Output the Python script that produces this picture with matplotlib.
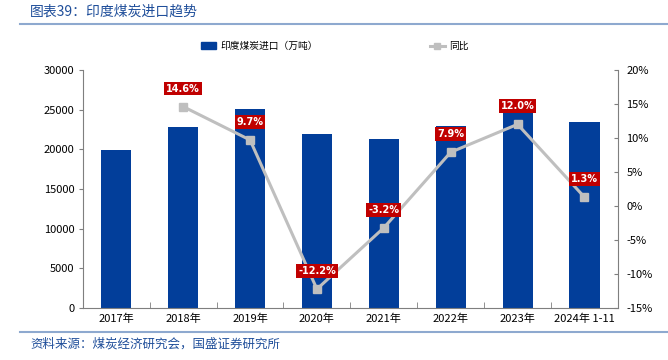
import matplotlib
matplotlib.use("Agg")
import matplotlib.pyplot as plt
from matplotlib.lines import Line2D
from matplotlib.patches import Patch
from matplotlib.ticker import FuncFormatter, FixedLocator

plt.rcParams['font.family'] = ['Noto Sans CJK SC', 'DejaVu Sans']

# data
years = ['2017年', '2018年', '2019年', '2020年', '2021年', '2022年', '2023年', '2024年 1-11']
imports = [19900, 22800, 25050, 21950, 21250, 22950, 25850, 23450]
yoy = [None, 14.6, 9.7, -12.2, -3.2, 7.9, 12.0, 1.3]

bar_color = '#023E9A'
line_color = '#BFBFBF'
label_red = '#C00000'
axis_gray = '#7F7F7F'

fig = plt.figure(figsize=(6.68, 3.6), dpi=100)
ax = fig.add_axes([0.124, 0.144, 0.801, 0.662])
ax2 = ax.twinx()

x = list(range(len(years)))
ax.bar(x, imports, width=0.45, color=bar_color, zorder=2)
ax.set_xlim(-0.5, len(years) - 0.5)
ax.set_ylim(0, 30000)
ax.set_yticks(range(0, 30001, 5000))
ax.set_xticks(x)
ax.set_xticklabels(years, fontsize=8)
ax.xaxis.set_minor_locator(FixedLocator([i + 0.5 for i in range(len(years) - 1)]))
ax.tick_params(axis='x', which='major', length=0, pad=4)
ax.tick_params(axis='x', which='minor', length=4, direction='in', color=axis_gray)
ax.tick_params(axis='y', labelsize=8, length=3, color=axis_gray, pad=3)

lx = [i for i, v in enumerate(yoy) if v is not None]
ly = [v for v in yoy if v is not None]
ax2.plot(lx, ly, color=line_color, lw=2.2, marker='s', markersize=6, zorder=3)
ax2.set_ylim(-15, 20)
ax2.set_yticks(range(-15, 21, 5))
ax2.yaxis.set_major_formatter(FuncFormatter(lambda v, p: f'{v:.0f}%'))
ax2.tick_params(axis='y', labelsize=8, length=3, direction='in', color=axis_gray, pad=6)

for xi, v in zip(lx, ly):
    ax2.annotate(f'{v:.1f}%', (xi, v), xytext=(0, 13), textcoords='offset points',
                 ha='center', va='center', fontsize=7, color='white', fontweight='bold',
                 family='DejaVu Sans',
                 bbox=dict(boxstyle='square,pad=0.2', fc=label_red, ec='none'), zorder=5)

for a in (ax, ax2):
    a.spines['top'].set_visible(False)
    for s in ('left', 'right', 'bottom'):
        a.spines[s].set_color(axis_gray)
        a.spines[s].set_linewidth(0.8)
ax.spines['right'].set_visible(False)
ax2.spines['left'].set_visible(False)
ax2.spines['bottom'].set_visible(False)

handles = [Patch(color=bar_color), Line2D([], [], color=line_color, lw=2.2, marker='s', markersize=5)]
fig.legend(handles, ['印度煤炭进口（万吨）', '同比'], loc='center', bbox_to_anchor=(0.501, 0.872),
           ncol=2, frameon=False, fontsize=7, columnspacing=11.5, handlelength=1.6,
           handletextpad=0.4)

# title and source
fig.text(0.045, 0.967, '图表39：印度煤炭进口趋势', fontsize=10, color='#1F4E9A',
         ha='left', va='center', style='italic')
fig.add_artist(Line2D([0.03, 1.0], [0.933, 0.933], color='#8EA9CF', lw=1.5))
fig.add_artist(Line2D([0.03, 1.0], [0.078, 0.078], color='#8EA9CF', lw=1.5))
fig.text(0.045, 0.045, '资料来源：煤炭经济研究会，国盛证券研究所', fontsize=9, color='#1F4E9A',
         ha='left', va='center', style='italic')

fig.savefig('out.png', dpi=100)
